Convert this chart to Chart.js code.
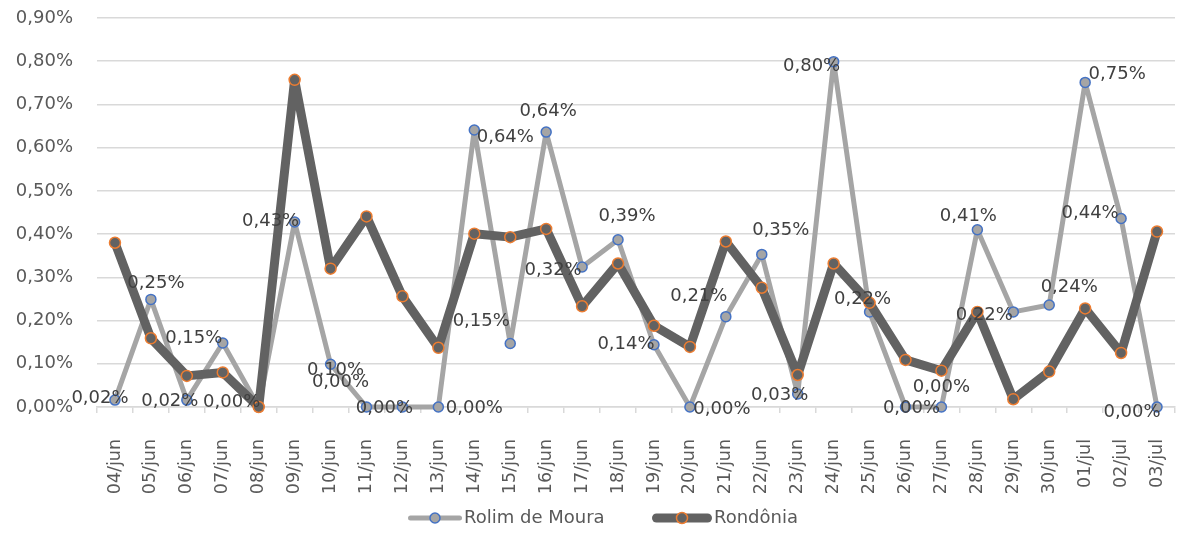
<!DOCTYPE html>
<html><head><meta charset="utf-8">
<script src="https://cdn.jsdelivr.net/npm/chart.js@4"></script>
<style>html,body{margin:0;padding:0;background:#fff}#wrap{width:1182px;height:534px;position:relative}</style>
</head><body><div id="wrap"><canvas id="c"></canvas></div>
<script>
const categories = ['04/jun','05/jun','06/jun','07/jun','08/jun','09/jun','10/jun','11/jun','12/jun','13/jun','14/jun','15/jun','16/jun','17/jun','18/jun','19/jun','20/jun','21/jun','22/jun','23/jun','24/jun','25/jun','26/jun','27/jun','28/jun','29/jun','30/jun','01/jul','02/jul','03/jul'];
const seriesNames = ['Rolim de Moura','Rondônia'];
// values in percent units (0.38 = 0,38%)
const rolimValues = [0.016,0.249,0.016,0.148,0,0.428,0.099,0,0,0,0.641,0.147,0.636,0.324,0.387,0.144,0,0.209,0.353,0.030,0.799,0.220,0,0,0.410,0.220,0.236,0.751,0.436,0];
const rondoniaValues = [0.380,0.159,0.072,0.080,0,0.757,0.320,0.441,0.256,0.137,0.401,0.393,0.412,0.233,0.332,0.188,0.139,0.383,0.276,0.074,0.332,0.241,0.109,0.084,0.220,0.018,0.082,0.228,0.125,0.406];
const yMin = 0, yMax = 0.9, yStep = 0.1;

// label placement offsets (style only), px relative to the point
const labelOffsets = [[-15,-2],[5,-16],[-17,1],[-29,-5],[-27,-5],[-24,-1],[5,6],[-26,-25],[-18,1],[36,1],[31,7],[-29,-22],[2,-21],[-29,3],[9,-23],[-28,0],[32,2],[-27,-20],[19,-24],[-18,1],[-22,5],[-7,-13],[6,1],[0,-20],[-9,-13],[-29,3],[20,-18],[32,-8],[-31,-5],[-25,5]];

const FONT = "'DejaVu Sans', sans-serif";
const fmt = v => v.toFixed(2).replace('.', ',') + '%';

Chart.defaults.font.family = FONT;
Chart.defaults.font.size = 18;
Chart.defaults.color = '#595959';

const dataLabels = {
  id: 'dataLabels',
  afterDatasetsDraw(chart) {
    const ctx = chart.ctx;
    const meta = chart.getDatasetMeta(0);
    const ds = chart.data.datasets[0];
    ctx.save();
    ctx.font = "18px " + FONT;
    ctx.fillStyle = '#404040';
    ctx.textAlign = 'center';
    ctx.textBaseline = 'middle';
    meta.data.forEach((pt, i) => {
      const off = labelOffsets[i] || [0, -14];
      ctx.fillText(fmt(ds.data[i]), pt.x + off[0], pt.y + off[1]);
    });
    ctx.restore();
  }
};

const legendItems = [{x: 408, w: 54}, {x: 652, w: 60}];
const customLegend = {
  id: 'customLegend',
  afterDraw(chart) {
    const ctx = chart.ctx;
    const y = chart.height - 16;
    ctx.save();
    chart.data.datasets.forEach((ds, i) => {
      const it = legendItems[i];
      ctx.beginPath();
      ctx.lineCap = 'round';
      ctx.strokeStyle = ds.borderColor;
      ctx.lineWidth = ds.borderWidth;
      ctx.moveTo(it.x + ds.borderWidth / 2, y);
      ctx.lineTo(it.x + it.w - ds.borderWidth / 2, y);
      ctx.stroke();
      ctx.beginPath();
      ctx.arc(it.x + it.w / 2, y, ds.pointRadius, 0, Math.PI * 2);
      ctx.fillStyle = ds.pointBackgroundColor;
      ctx.fill();
      ctx.lineWidth = ds.pointBorderWidth;
      ctx.strokeStyle = ds.pointBorderColor;
      ctx.stroke();
      ctx.font = "18px " + FONT;
      ctx.fillStyle = '#595959';
      ctx.textAlign = 'left';
      ctx.textBaseline = 'middle';
      ctx.fillText(ds.label, it.x + it.w + 2, y);
    });
    ctx.restore();
  }
};

new Chart(document.getElementById('c'), {
  type: 'line',
  data: {
    labels: categories,
    datasets: [
      {
        label: seriesNames[0], data: rolimValues, order: 1, clip: false,
        borderColor: '#a5a5a5', borderWidth: 5, tension: 0,
        borderJoinStyle: 'round', borderCapStyle: 'round',
        pointRadius: 5, pointHoverRadius: 5,
        pointBackgroundColor: '#a5a5a5', pointBorderColor: '#4472c4', pointBorderWidth: 1.5
      },
      {
        label: seriesNames[1], data: rondoniaValues, order: 0, clip: false,
        borderColor: '#626262', borderWidth: 9, tension: 0,
        borderJoinStyle: 'round', borderCapStyle: 'round',
        pointRadius: 5.5, pointHoverRadius: 5.5,
        pointBackgroundColor: '#626262', pointBorderColor: '#ed7d31', pointBorderWidth: 1.5
      }
    ]
  },
  options: {
    responsive: true,
    maintainAspectRatio: false,
    animation: false,
    devicePixelRatio: 1,
    layout: { padding: { left: 0, top: 18, right: 1, bottom: 40 } },
    plugins: { legend: { display: false }, tooltip: { enabled: false } },
    events: [],
    scales: {
      x: {
        type: 'category',
        offset: true,
        grid: { display: true, drawOnChartArea: false, drawTicks: true, tickLength: 6, color: '#d9d9d9', lineWidth: 1.5, offset: true },
        border: { display: true, color: '#d9d9d9', width: 1.5 },
        ticks: { autoSkip: false, maxRotation: 90, minRotation: 90, padding: 26, color: '#595959', font: { size: 17.5 } },
        afterFit(s) { s.height = 87; s.paddingLeft = 0; s.paddingRight = 0; }
      },
      y: {
        min: yMin, max: yMax,
        grid: { color: '#d9d9d9', lineWidth: 1.5, drawTicks: false },
        border: { display: false },
        ticks: { stepSize: yStep, padding: 24, color: '#595959', callback: v => fmt(v) },
        afterFit(s) { s.width = 97; s.paddingTop = 0; s.paddingBottom = 0; }
      }
    }
  },
  plugins: [dataLabels, customLegend]
});
</script>
</body></html>
